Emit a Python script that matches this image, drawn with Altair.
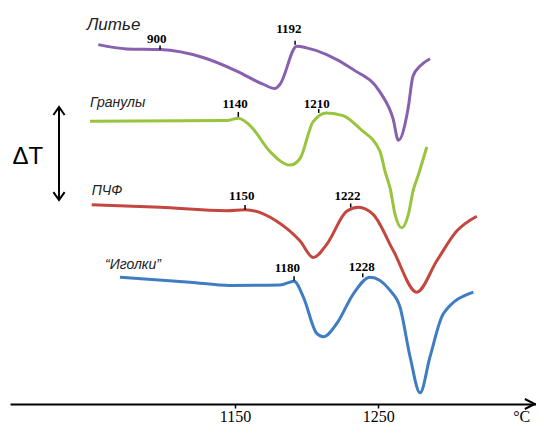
import altair as alt
import pandas as pd

# ---- curves (temperature °C, ΔT in arbitrary units above the axis) ----
litye_T = [1054.6, 1074.4, 1097.7, 1127.7, 1151.2, 1169.5, 1177.9, 1181.4, 1193.1, 1200.0,
           1214.0, 1232.3, 1251.2, 1260.3, 1264.0, 1270.7, 1274.2, 1279.1, 1286.1]
litye_dT = [363, 358.7, 358, 350, 336.3, 323, 318.7, 323, 361.3, 359.7,
            353, 338, 315, 288, 266.3, 298, 331.3, 341.3, 348.7]

gran_T = [1048.8, 1144.2, 1152.3, 1160.5, 1174.4, 1188.4, 1195.4, 1204.4, 1214.0, 1225.4,
          1237.2, 1251.2, 1254.7, 1258.2, 1261.7, 1266.3, 1270.9, 1274.2, 1277.9, 1283.8]
gran_dT = [285.7, 286.3, 288.7, 281.3, 255, 241.3, 248, 285, 294, 291.3,
           278, 255, 234.7, 218, 191.3, 178, 191.3, 215, 231.3, 259.7]

pchf_T = [1050.0, 1097.7, 1144.2, 1157.0, 1179.1, 1195.4, 1204.6, 1214.0, 1227.9, 1236.0,
          1246.5, 1260.5, 1276.8, 1290.8, 1304.7, 1318.7]
pchf_dT = [201.3, 198.7, 195.3, 196.3, 184.7, 164.7, 148, 161.3, 194.7, 198.7,
           191.3, 154.7, 113, 144.7, 174.7, 189.7]

igol_T = [1069.7, 1118.6, 1146.5, 1181.4, 1191.2, 1197.7, 1207.0, 1211.6, 1221.0, 1232.6,
          1244.2, 1258.2, 1265.1, 1272.1, 1279.1, 1286.1, 1295.4, 1316.3]
igol_dT = [128, 123, 119.7, 120.3, 124, 108, 71.3, 68, 81.3, 111.3,
           128, 114.7, 98, 48, 11.3, 48, 91.3, 113]

series_names = ["Литье", "Гранулы", "ПЧФ", "“Иголки”"]
series_colors = ["#8860b0", "#98c43e", "#c4463f", "#3f7dc3"]
name_T = [1046.5, 1048.8, 1050.0, 1059.3]
name_dT = [383, 304, 215, 140]
name_size = [17, 14, 14, 14]

# ---- peak marks on curves ----
tick_T = [1097.7, 1191.9, 1152.3, 1208.4, 1157.0, 1230.7, 1191.2, 1239.1]
tick_lo = [358, 363, 290, 294, 196.3, 198.7, 124.7, 128]
tick_hi = [362, 367, 295, 298, 201, 202.5, 129, 132]
tick_text = ["900", "1192", "1140", "1210", "1150", "1222", "1180", "1228"]
tick_label_T = [1095.4, 1187.5, 1150.0, 1207.0, 1154.7, 1228.4, 1186.5, 1238.4]
tick_label_dT = [369, 379, 303, 303, 209.7, 209.7, 137.3, 138.7]

# ---- axes ----
x_min, x_max = 993.0, 1360.0
axis_ticks = [1150, 1250]
dT_arrow_T = 1027.2
dT_arrow_lo, dT_arrow_hi = 206, 300
dT_label_T, dT_label_dT = 1005.5, 250
unit_T, unit_dT = 1350.0, -18

rows = []
for name, Ts, dTs in zip(series_names, [litye_T, gran_T, pchf_T, igol_T],
                         [litye_dT, gran_dT, pchf_dT, igol_dT]):
    for i, (t, d) in enumerate(zip(Ts, dTs)):
        rows.append({"series": name, "T": t, "dT": d, "order": i})
curves = pd.DataFrame(rows)

xs = alt.Scale(domain=[x_min, x_max], nice=False, zero=False)
ys = alt.Scale(domain=[0, 400], nice=False, zero=False)

X = alt.X("T:Q", scale=xs,
          axis=alt.Axis(values=axis_ticks, title=None, grid=False, domain=True,
                        domainColor="black", domainWidth=2, tickColor="black",
                        tickWidth=1.5, tickSize=4, labelFont="Liberation Serif",
                        labelFontSize=16, labelColor="black", labelPadding=0,
                        format="d", labelFlush=False))
Y = alt.Y("dT:Q", scale=ys, axis=None)

lines = alt.Chart(curves).mark_line(strokeWidth=3, interpolate="monotone").encode(
    x=X, y=Y,
    color=alt.Color("series:N", scale=alt.Scale(domain=series_names, range=series_colors),
                    legend=None),
    order="order:Q",
)

names_df = pd.DataFrame({"T": name_T, "dT": name_dT, "txt": series_names, "fs": name_size})
names = alt.Chart(names_df).mark_text(align="left", baseline="middle", fontStyle="italic",
                                     font="Liberation Sans", color="#222").encode(
    x=alt.X("T:Q", scale=xs), y=alt.Y("dT:Q", scale=ys), text="txt:N",
    size=alt.Size("fs:Q", scale=None, legend=None))

ticks_df = pd.DataFrame({"T": tick_T, "dT": tick_lo, "dT2": tick_hi})
ticks = alt.Chart(ticks_df).mark_rule(color="black", strokeWidth=1.5).encode(
    x=alt.X("T:Q", scale=xs), y=alt.Y("dT:Q", scale=ys), y2="dT2:Q")

labels_df = pd.DataFrame({"T": tick_label_T, "dT": tick_label_dT, "txt": tick_text})
labels = alt.Chart(labels_df).mark_text(font="Liberation Serif", fontWeight="bold",
                                       fontSize=13, baseline="middle", color="black").encode(
    x=alt.X("T:Q", scale=xs), y=alt.Y("dT:Q", scale=ys), text="txt:N")

arrow_df = pd.DataFrame({"T": [dT_arrow_T], "dT": [dT_arrow_lo], "dT2": [dT_arrow_hi]})
arrow = alt.Chart(arrow_df).mark_rule(color="black", strokeWidth=2).encode(
    x=alt.X("T:Q", scale=xs), y=alt.Y("dT:Q", scale=ys), y2="dT2:Q")

up_df = pd.DataFrame({"T": [dT_arrow_T], "dT": [dT_arrow_hi]})
up_head = alt.Chart(up_df).mark_point(shape="M-0.7,1L0,0L0.7,1", size=256, filled=False,
                                      color="black", strokeWidth=2, opacity=1).encode(
    x=alt.X("T:Q", scale=xs), y=alt.Y("dT:Q", scale=ys))
down_df = pd.DataFrame({"T": [dT_arrow_T], "dT": [dT_arrow_lo]})
down_head = alt.Chart(down_df).mark_point(shape="M-0.7,-1L0,0L0.7,-1", size=256, filled=False,
                                          color="black", strokeWidth=2, opacity=1).encode(
    x=alt.X("T:Q", scale=xs), y=alt.Y("dT:Q", scale=ys))
right_df = pd.DataFrame({"T": [x_max - 0.8], "dT": [0]})
right_head = alt.Chart(right_df).mark_point(shape="M-1,-0.5L0,0L-1,0.5", size=400, filled=False,
                                            color="black", strokeWidth=2, opacity=1).encode(
    x=alt.X("T:Q", scale=xs), y=alt.Y("dT:Q", scale=ys))

dT_df = pd.DataFrame({"T": [dT_label_T], "dT": [dT_label_dT], "txt": ["ΔT"]})
dT_text = alt.Chart(dT_df).mark_text(font="Liberation Sans", fontSize=24, baseline="middle",
                                     color="black").encode(
    x=alt.X("T:Q", scale=xs), y=alt.Y("dT:Q", scale=ys), text="txt:N")

unit_df = pd.DataFrame({"T": [unit_T], "dT": [unit_dT], "txt": ["°C"]})
unit_text = alt.Chart(unit_df).mark_text(font="Liberation Serif", fontSize=16,
                                         baseline="alphabetic", color="black").encode(
    x=alt.X("T:Q", scale=xs), y=alt.Y("dT:Q", scale=ys), text="txt:N")

chart = alt.layer(lines, ticks, labels, names, arrow, up_head, down_head, right_head,
                  dT_text, unit_text).properties(
    width=526, height=396, autosize="none",
    padding={"left": 2, "top": 0, "right": 0, "bottom": 22},
    background="white",
).configure_view(stroke=None)

chart.save("out.html", embed_options={"renderer": "svg", "actions": False})
